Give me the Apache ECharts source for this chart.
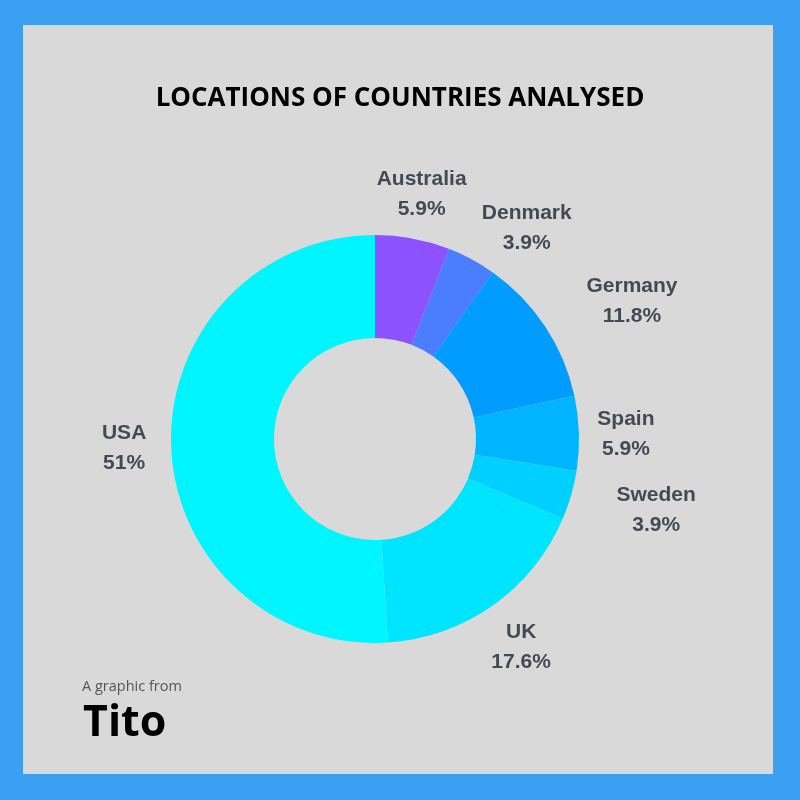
<!DOCTYPE html>
<html>
<head>
<meta charset="utf-8">
<script src="https://cdn.jsdelivr.net/npm/echarts@6/dist/echarts.min.js"></script>
<style>html,body{margin:0;padding:0;background:#3a9ff0;}#c{width:800px;height:800px;}</style>
</head>
<body>
<div id="c"></div>
<script>
const countries = ['Australia', 'Denmark', 'Germany', 'Spain', 'Sweden', 'UK', 'USA'];
const shares = [5.9, 3.9, 11.8, 5.9, 3.9, 17.6, 51];
const sliceColors = ['#8c52ff', '#4b7dff', '#009cff', '#00b4ff', '#00d0ff', '#00e5ff', '#00f6ff'];
const titleText = 'LOCATIONS OF COUNTRIES ANALYSED';

// label nudges (style only, keyed by category)
const labelNudge = { Australia: [0, 4], Denmark: [32, 12], Germany: [46, 2], Spain: [-2, 2], Sweden: [38, 1], UK: [0, 2], USA: [2, 1] };

const chart = echarts.init(document.getElementById('c'), null, { renderer: 'canvas' });
const center = [375, 439];

const option = {
  backgroundColor: '#3a9ff0',
  animation: false,
  graphic: [
    { type: 'rect', z: -10, shape: { x: 23, y: 25, width: 750, height: 749 }, style: { fill: '#d9d9d9' } },
    { type: 'text', left: 'center', top: 86, style: { text: titleText, font: 'bold 26px "Open Sans"', fill: '#000' } },
    { type: 'text', left: 82, top: 679, style: { text: 'A graphic from', font: '14.5px "Open Sans"', fill: '#555' } },
    { type: 'text', left: 83, top: 702, style: { text: 'Tito', font: 'bold 43px "Open Sans"', fill: '#000' } }
  ],
  series: [
    {
      type: 'pie',
      center: center,
      radius: [101, 204],
      startAngle: 90,
      clockwise: true,
      silent: true,
      label: { show: false },
      labelLine: { show: false },
      data: countries.map((n, i) => ({ name: n, value: shares[i], itemStyle: { color: sliceColors[i] } }))
    },
    {
      type: 'pie',
      center: center,
      radius: [240, 260],
      startAngle: 90,
      clockwise: true,
      silent: true,
      itemStyle: { color: 'rgba(0,0,0,0)' },
      labelLine: { show: false },
      label: {
        show: true,
        position: 'inside',
        formatter: p => p.name + '\n' + p.value + '%',
        color: '#434a54',
        fontFamily: 'Liberation Sans',
        fontWeight: 'bold',
        fontSize: 21,
        lineHeight: 30,
        align: 'center'
      },
      data: countries.map((n, i) => ({
        name: n, value: shares[i],
        label: labelNudge[n] ? { offset: labelNudge[n] } : {}
      }))
    }
  ]
};
chart.setOption(option);
</script>
</body>
</html>
